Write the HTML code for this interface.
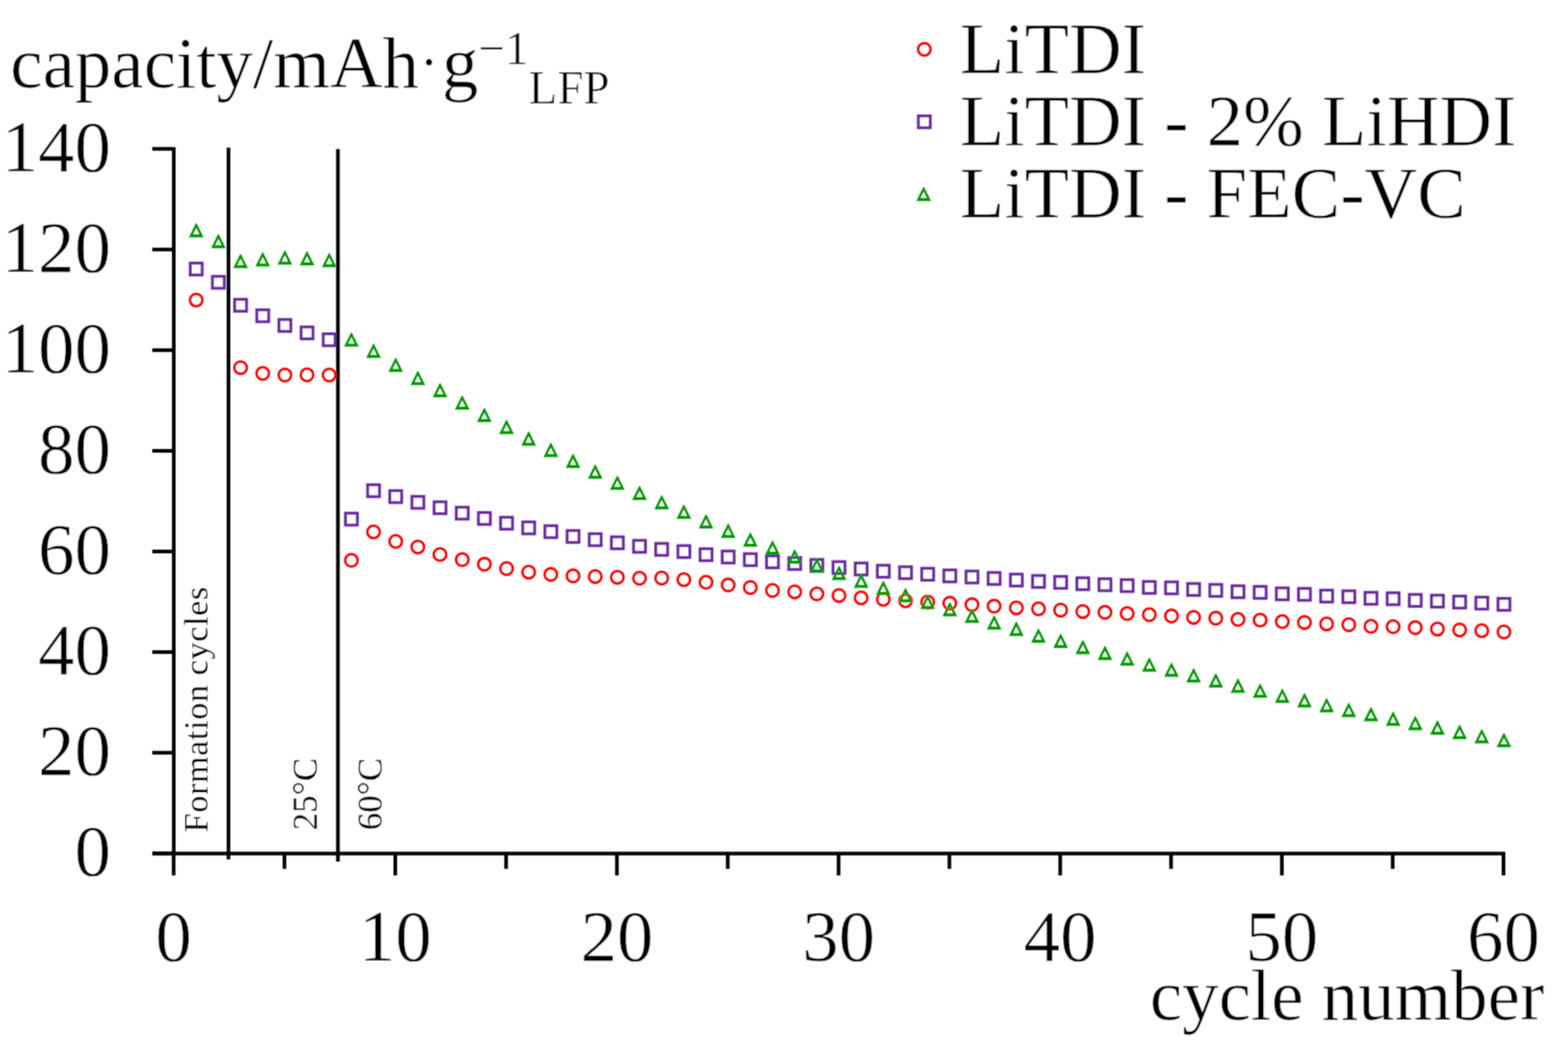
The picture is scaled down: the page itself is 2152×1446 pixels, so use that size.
<!DOCTYPE html>
<html><head><meta charset="utf-8"><title>Capacity vs cycle number</title>
<style>
html,body{margin:0;padding:0;background:#fff;}
svg{display:block;}
text{font-family:"Liberation Serif","Times New Roman",serif;fill:#000;stroke:#fff;stroke-width:0.6px;}
.sm text{stroke-width:0.25px;}
</style></head>
<body>
<svg width="2152" height="1446" viewBox="0 0 2152 1446">
<defs><filter id="soft" filterUnits="userSpaceOnUse" x="0" y="0" width="2152" height="1446"><feConvolveMatrix order="3" kernelMatrix="1 2 1 2 4 2 1 2 1" divisor="16" edgeMode="none" preserveAlpha="false"/></filter></defs>
<rect width="2152" height="1446" fill="#fff"/>
<g filter="url(#soft)">
<text x="14" y="119.5" font-size="100">capacity/mAh<tspan font-size="78" dx="0.85" dy="-9">·</tspan><tspan dx="4.65" dy="9">g</tspan><tspan font-size="65" dy="-31.5">−1</tspan><tspan font-size="64.5" dy="53.5">LFP</tspan></text>

<circle cx="1268.6" cy="67.7" r="8.6" fill="none" stroke="#ff0000" stroke-width="3.3"/>
<rect x="1260.4" y="158.9" width="16.4" height="16.4" fill="none" stroke="#6a2aa0" stroke-width="3.8"/>
<path fill="#009900" fill-rule="evenodd" d="M1267.25,256.40L1268.15,256.40L1277.70,275.70L1257.70,275.70ZM1267.70,262.49L1263.14,271.70L1272.26,271.70Z"/>
<g font-size="100">
<text x="1317.3" y="99.5">LiTDI</text>
<text x="1317.3" y="199">LiTDI - 2% LiHDI</text>
<text x="1317.3" y="297.7">LiTDI - FEC-VC</text>
</g>
<g stroke="#000" stroke-width="5.0" fill="none"><path d="M238.5,201.9V1171.0" /><path d="M209,1171.0H2066" /><path d="M209,1170.8H238.5" /><path d="M209,1032.7H238.5" /><path d="M209,894.6H238.5" /><path d="M209,756.6H238.5" /><path d="M209,618.5H238.5" /><path d="M209,480.4H238.5" /><path d="M209,342.3H238.5" /><path d="M209,204.2H238.5" /><path d="M238.3,1171.0V1201.0" /><path d="M390.4,1171.0V1192.0" /><path d="M542.5,1171.0V1201.0" /><path d="M694.6,1171.0V1192.0" /><path d="M846.7,1171.0V1201.0" /><path d="M998.8,1171.0V1192.0" /><path d="M1150.9,1171.0V1201.0" /><path d="M1303.0,1171.0V1192.0" /><path d="M1455.1,1171.0V1201.0" /><path d="M1607.2,1171.0V1192.0" /><path d="M1759.3,1171.0V1201.0" /><path d="M1911.4,1171.0V1192.0" /><path d="M2063.5,1171.0V1201.0" /><path d="M313.6,202.5V1179" /><path d="M463.8,204.4V1182" /></g>
<g fill="none" stroke="#ff0000" stroke-width="3.3"><circle cx="269.3" cy="411.7" r="8.6"/><circle cx="330.2" cy="504.4" r="8.6"/><circle cx="360.6" cy="512.3" r="8.6"/><circle cx="391.0" cy="514.5" r="8.6"/><circle cx="421.4" cy="514.3" r="8.6"/><circle cx="451.8" cy="514.5" r="8.6"/><circle cx="482.3" cy="768.8" r="8.6"/><circle cx="512.7" cy="729.7" r="8.6"/><circle cx="543.1" cy="742.8" r="8.6"/><circle cx="573.5" cy="750.4" r="8.6"/><circle cx="603.9" cy="760.7" r="8.6"/><circle cx="634.4" cy="767.8" r="8.6"/><circle cx="664.8" cy="774.1" r="8.6"/><circle cx="695.2" cy="780.0" r="8.6"/><circle cx="725.6" cy="784.9" r="8.6"/><circle cx="756.0" cy="788.1" r="8.6"/><circle cx="786.5" cy="790.1" r="8.6"/><circle cx="816.9" cy="790.9" r="8.6"/><circle cx="847.3" cy="791.9" r="8.6"/><circle cx="877.7" cy="793.3" r="8.6"/><circle cx="908.1" cy="793.0" r="8.6"/><circle cx="938.6" cy="795.2" r="8.6"/><circle cx="969.0" cy="798.8" r="8.6"/><circle cx="999.4" cy="802.6" r="8.6"/><circle cx="1029.8" cy="806.0" r="8.6"/><circle cx="1060.2" cy="810.0" r="8.6"/><circle cx="1090.7" cy="811.9" r="8.6"/><circle cx="1121.1" cy="814.8" r="8.6"/><circle cx="1151.5" cy="816.9" r="8.6"/><circle cx="1181.9" cy="820.2" r="8.6"/><circle cx="1212.3" cy="822.2" r="8.6"/><circle cx="1242.8" cy="824.2" r="8.6"/><circle cx="1273.2" cy="825.9" r="8.6"/><circle cx="1303.6" cy="827.6" r="8.6"/><circle cx="1334.0" cy="829.6" r="8.6"/><circle cx="1364.4" cy="831.6" r="8.6"/><circle cx="1394.9" cy="833.9" r="8.6"/><circle cx="1425.3" cy="835.3" r="8.6"/><circle cx="1455.7" cy="837.0" r="8.6"/><circle cx="1486.1" cy="838.9" r="8.6"/><circle cx="1516.5" cy="840.1" r="8.6"/><circle cx="1547.0" cy="841.8" r="8.6"/><circle cx="1577.4" cy="843.3" r="8.6"/><circle cx="1607.8" cy="845.1" r="8.6"/><circle cx="1638.2" cy="846.9" r="8.6"/><circle cx="1668.6" cy="848.1" r="8.6"/><circle cx="1699.1" cy="849.8" r="8.6"/><circle cx="1729.5" cy="850.8" r="8.6"/><circle cx="1759.9" cy="852.8" r="8.6"/><circle cx="1790.3" cy="853.9" r="8.6"/><circle cx="1820.7" cy="855.9" r="8.6"/><circle cx="1851.2" cy="857.0" r="8.6"/><circle cx="1881.6" cy="859.3" r="8.6"/><circle cx="1912.0" cy="859.8" r="8.6"/><circle cx="1942.4" cy="861.1" r="8.6"/><circle cx="1972.8" cy="862.9" r="8.6"/><circle cx="2003.3" cy="864.2" r="8.6"/><circle cx="2033.7" cy="865.2" r="8.6"/><circle cx="2064.1" cy="867.0" r="8.6"/></g>
<g fill="none" stroke="#6a2aa0" stroke-width="3.8"><rect x="261.1" y="360.9" width="16.4" height="16.4"/><rect x="291.5" y="379.1" width="16.4" height="16.4"/><rect x="322.0" y="410.6" width="16.4" height="16.4"/><rect x="352.4" y="425.0" width="16.4" height="16.4"/><rect x="382.8" y="438.3" width="16.4" height="16.4"/><rect x="413.2" y="448.5" width="16.4" height="16.4"/><rect x="443.6" y="457.9" width="16.4" height="16.4"/><rect x="474.1" y="704.0" width="16.4" height="16.4"/><rect x="504.5" y="665.0" width="16.4" height="16.4"/><rect x="534.9" y="673.1" width="16.4" height="16.4"/><rect x="565.3" y="681.0" width="16.4" height="16.4"/><rect x="595.7" y="688.4" width="16.4" height="16.4"/><rect x="626.2" y="695.8" width="16.4" height="16.4"/><rect x="656.6" y="703.1" width="16.4" height="16.4"/><rect x="687.0" y="709.6" width="16.4" height="16.4"/><rect x="717.4" y="716.0" width="16.4" height="16.4"/><rect x="747.8" y="721.2" width="16.4" height="16.4"/><rect x="778.3" y="727.8" width="16.4" height="16.4"/><rect x="808.7" y="732.2" width="16.4" height="16.4"/><rect x="839.1" y="736.5" width="16.4" height="16.4"/><rect x="869.5" y="741.3" width="16.4" height="16.4"/><rect x="899.9" y="745.5" width="16.4" height="16.4"/><rect x="930.4" y="748.5" width="16.4" height="16.4"/><rect x="960.8" y="752.8" width="16.4" height="16.4"/><rect x="991.2" y="756.0" width="16.4" height="16.4"/><rect x="1021.6" y="759.6" width="16.4" height="16.4"/><rect x="1052.0" y="762.6" width="16.4" height="16.4"/><rect x="1082.5" y="764.9" width="16.4" height="16.4"/><rect x="1112.9" y="767.5" width="16.4" height="16.4"/><rect x="1143.3" y="770.5" width="16.4" height="16.4"/><rect x="1173.7" y="772.4" width="16.4" height="16.4"/><rect x="1204.1" y="775.5" width="16.4" height="16.4"/><rect x="1234.6" y="777.5" width="16.4" height="16.4"/><rect x="1265.0" y="779.6" width="16.4" height="16.4"/><rect x="1295.4" y="781.9" width="16.4" height="16.4"/><rect x="1325.8" y="783.4" width="16.4" height="16.4"/><rect x="1356.2" y="785.4" width="16.4" height="16.4"/><rect x="1386.7" y="787.6" width="16.4" height="16.4"/><rect x="1417.1" y="789.5" width="16.4" height="16.4"/><rect x="1447.5" y="790.8" width="16.4" height="16.4"/><rect x="1477.9" y="792.6" width="16.4" height="16.4"/><rect x="1508.3" y="794.0" width="16.4" height="16.4"/><rect x="1538.8" y="795.2" width="16.4" height="16.4"/><rect x="1569.2" y="797.7" width="16.4" height="16.4"/><rect x="1599.6" y="798.3" width="16.4" height="16.4"/><rect x="1630.0" y="800.5" width="16.4" height="16.4"/><rect x="1660.4" y="801.8" width="16.4" height="16.4"/><rect x="1690.9" y="803.6" width="16.4" height="16.4"/><rect x="1721.3" y="804.5" width="16.4" height="16.4"/><rect x="1751.7" y="806.5" width="16.4" height="16.4"/><rect x="1782.1" y="807.2" width="16.4" height="16.4"/><rect x="1812.5" y="809.6" width="16.4" height="16.4"/><rect x="1843.0" y="810.5" width="16.4" height="16.4"/><rect x="1873.4" y="812.6" width="16.4" height="16.4"/><rect x="1903.8" y="813.2" width="16.4" height="16.4"/><rect x="1934.2" y="815.5" width="16.4" height="16.4"/><rect x="1964.6" y="816.5" width="16.4" height="16.4"/><rect x="1995.1" y="817.8" width="16.4" height="16.4"/><rect x="2025.5" y="819.2" width="16.4" height="16.4"/><rect x="2055.9" y="820.9" width="16.4" height="16.4"/></g>
<path fill="#009900" fill-rule="evenodd" d="M268.87,306.30L269.77,306.30L279.32,325.60L259.32,325.60ZM269.32,312.39L264.76,321.60L273.88,321.60ZM299.29,321.30L300.19,321.30L309.74,340.60L289.74,340.60ZM299.74,327.39L295.18,336.60L304.30,336.60ZM329.71,348.50L330.61,348.50L340.16,367.80L320.16,367.80ZM330.16,354.59L325.60,363.80L334.72,363.80ZM360.13,346.20L361.03,346.20L370.58,365.50L350.58,365.50ZM360.58,352.29L356.02,361.50L365.14,361.50ZM390.55,343.70L391.45,343.70L401.00,363.00L381.00,363.00ZM391.00,349.79L386.44,359.00L395.56,359.00ZM420.97,344.80L421.87,344.80L431.42,364.10L411.42,364.10ZM421.42,350.89L416.86,360.10L425.98,360.10ZM451.39,347.20L452.29,347.20L461.84,366.50L441.84,366.50ZM451.84,353.29L447.28,362.50L456.40,362.50ZM481.81,456.20L482.71,456.20L492.26,475.50L472.26,475.50ZM482.26,462.29L477.70,471.50L486.82,471.50ZM512.23,471.60L513.13,471.60L522.68,490.90L502.68,490.90ZM512.68,477.69L508.12,486.90L517.24,486.90ZM542.65,491.00L543.55,491.00L553.10,510.30L533.10,510.30ZM543.10,497.09L538.54,506.30L547.66,506.30ZM573.07,509.00L573.97,509.00L583.52,528.30L563.52,528.30ZM573.52,515.09L568.96,524.30L578.08,524.30ZM603.49,525.80L604.39,525.80L613.94,545.10L593.94,545.10ZM603.94,531.89L599.38,541.10L608.50,541.10ZM633.91,542.70L634.81,542.70L644.36,562.00L624.36,562.00ZM634.36,548.79L629.80,558.00L638.92,558.00ZM664.33,559.80L665.23,559.80L674.78,579.10L654.78,579.10ZM664.78,565.89L660.22,575.10L669.34,575.10ZM694.75,576.10L695.65,576.10L705.20,595.40L685.20,595.40ZM695.20,582.19L690.64,591.40L699.76,591.40ZM725.17,592.10L726.07,592.10L735.62,611.40L715.62,611.40ZM725.62,598.19L721.06,607.40L730.18,607.40ZM755.59,607.60L756.49,607.60L766.04,626.90L746.04,626.90ZM756.04,613.69L751.48,622.90L760.60,622.90ZM786.01,622.80L786.91,622.80L796.46,642.10L776.46,642.10ZM786.46,628.89L781.90,638.10L791.02,638.10ZM816.43,637.50L817.33,637.50L826.88,656.80L806.88,656.80ZM816.88,643.59L812.32,652.80L821.44,652.80ZM846.85,652.70L847.75,652.70L857.30,672.00L837.30,672.00ZM847.30,658.79L842.74,668.00L851.86,668.00ZM877.27,666.80L878.17,666.80L887.72,686.10L867.72,686.10ZM877.72,672.89L873.16,682.10L882.28,682.10ZM907.69,679.50L908.59,679.50L918.14,698.80L898.14,698.80ZM908.14,685.59L903.58,694.80L912.70,694.80ZM938.11,692.40L939.01,692.40L948.56,711.70L928.56,711.70ZM938.56,698.49L934.00,707.70L943.12,707.70ZM968.53,705.70L969.43,705.70L978.98,725.00L958.98,725.00ZM968.98,711.79L964.42,721.00L973.54,721.00ZM998.95,718.60L999.85,718.60L1009.40,737.90L989.40,737.90ZM999.40,724.69L994.84,733.90L1003.96,733.90ZM1029.37,730.80L1030.27,730.80L1039.82,750.10L1019.82,750.10ZM1029.82,736.89L1025.26,746.10L1034.38,746.10ZM1059.79,741.70L1060.69,741.70L1070.24,761.00L1050.24,761.00ZM1060.24,747.79L1055.68,757.00L1064.80,757.00ZM1090.21,753.90L1091.11,753.90L1100.66,773.20L1080.66,773.20ZM1090.66,759.99L1086.10,769.20L1095.22,769.20ZM1120.63,765.90L1121.53,765.90L1131.08,785.20L1111.08,785.20ZM1121.08,771.99L1116.52,781.20L1125.64,781.20ZM1151.05,776.50L1151.95,776.50L1161.50,795.80L1141.50,795.80ZM1151.50,782.59L1146.94,791.80L1156.06,791.80ZM1181.47,787.10L1182.37,787.10L1191.92,806.40L1171.92,806.40ZM1181.92,793.19L1177.36,802.40L1186.48,802.40ZM1211.89,796.90L1212.79,796.90L1222.34,816.20L1202.34,816.20ZM1212.34,802.99L1207.78,812.20L1216.90,812.20ZM1242.31,807.00L1243.21,807.00L1252.76,826.30L1232.76,826.30ZM1242.76,813.09L1238.20,822.30L1247.32,822.30ZM1272.73,816.10L1273.63,816.10L1283.18,835.40L1263.18,835.40ZM1273.18,822.19L1268.62,831.40L1277.74,831.40ZM1303.15,826.20L1304.05,826.20L1313.60,845.50L1293.60,845.50ZM1303.60,832.29L1299.04,841.50L1308.16,841.50ZM1333.57,835.30L1334.47,835.30L1344.02,854.60L1324.02,854.60ZM1334.02,841.39L1329.46,850.60L1338.58,850.60ZM1363.99,844.50L1364.89,844.50L1374.44,863.80L1354.44,863.80ZM1364.44,850.59L1359.88,859.80L1369.00,859.80ZM1394.41,853.10L1395.31,853.10L1404.86,872.40L1384.86,872.40ZM1394.86,859.19L1390.30,868.40L1399.42,868.40ZM1424.83,862.40L1425.73,862.40L1435.28,881.70L1415.28,881.70ZM1425.28,868.49L1420.72,877.70L1429.84,877.70ZM1455.25,869.60L1456.15,869.60L1465.70,888.90L1445.70,888.90ZM1455.70,875.69L1451.14,884.90L1460.26,884.90ZM1485.67,878.20L1486.57,878.20L1496.12,897.50L1476.12,897.50ZM1486.12,884.29L1481.56,893.50L1490.68,893.50ZM1516.09,886.30L1516.99,886.30L1526.54,905.60L1506.54,905.60ZM1516.54,892.39L1511.98,901.60L1521.10,901.60ZM1546.51,894.00L1547.41,894.00L1556.96,913.30L1536.96,913.30ZM1546.96,900.09L1542.40,909.30L1551.52,909.30ZM1576.93,902.20L1577.83,902.20L1587.38,921.50L1567.38,921.50ZM1577.38,908.29L1572.82,917.50L1581.94,917.50ZM1607.35,909.20L1608.25,909.20L1617.80,928.50L1597.80,928.50ZM1607.80,915.29L1603.24,924.50L1612.36,924.50ZM1637.77,917.00L1638.67,917.00L1648.22,936.30L1628.22,936.30ZM1638.22,923.09L1633.66,932.30L1642.78,932.30ZM1668.19,924.00L1669.09,924.00L1678.64,943.30L1658.64,943.30ZM1668.64,930.09L1664.08,939.30L1673.20,939.30ZM1698.61,931.10L1699.51,931.10L1709.06,950.40L1689.06,950.40ZM1699.06,937.19L1694.50,946.40L1703.62,946.40ZM1729.03,938.00L1729.93,938.00L1739.48,957.30L1719.48,957.30ZM1729.48,944.09L1724.92,953.30L1734.04,953.30ZM1759.45,944.90L1760.35,944.90L1769.90,964.20L1749.90,964.20ZM1759.90,950.99L1755.34,960.20L1764.46,960.20ZM1789.87,951.10L1790.77,951.10L1800.32,970.40L1780.32,970.40ZM1790.32,957.19L1785.76,966.40L1794.88,966.40ZM1820.29,958.00L1821.19,958.00L1830.74,977.30L1810.74,977.30ZM1820.74,964.09L1816.18,973.30L1825.30,973.30ZM1850.71,964.40L1851.61,964.40L1861.16,983.70L1841.16,983.70ZM1851.16,970.49L1846.60,979.70L1855.72,979.70ZM1881.13,970.30L1882.03,970.30L1891.58,989.60L1871.58,989.60ZM1881.58,976.39L1877.02,985.60L1886.14,985.60ZM1911.55,976.50L1912.45,976.50L1922.00,995.80L1902.00,995.80ZM1912.00,982.59L1907.44,991.80L1916.56,991.80ZM1941.97,982.40L1942.87,982.40L1952.42,1001.70L1932.42,1001.70ZM1942.42,988.49L1937.86,997.70L1946.98,997.70ZM1972.39,988.60L1973.29,988.60L1982.84,1007.90L1962.84,1007.90ZM1972.84,994.69L1968.28,1003.90L1977.40,1003.90ZM2002.81,994.60L2003.71,994.60L2013.26,1013.90L1993.26,1013.90ZM2003.26,1000.69L1998.70,1009.90L2007.82,1009.90ZM2033.23,1000.50L2034.13,1000.50L2043.68,1019.80L2023.68,1019.80ZM2033.68,1006.59L2029.12,1015.80L2038.24,1015.80ZM2063.65,1005.80L2064.55,1005.80L2074.10,1025.10L2054.10,1025.10ZM2064.10,1011.89L2059.54,1021.10L2068.66,1021.10Z"/>
<g font-size="100"><text x="152.3" y="1201.2" text-anchor="end">0</text><text x="152.3" y="1063.1" text-anchor="end">20</text><text x="152.3" y="925.0" text-anchor="end">40</text><text x="152.3" y="787.0" text-anchor="end">60</text><text x="152.3" y="648.9" text-anchor="end">80</text><text x="152.3" y="510.8" text-anchor="end">100</text><text x="152.3" y="372.7" text-anchor="end">120</text><text x="152.3" y="234.6" text-anchor="end">140</text><text x="238.3" y="1317.5" text-anchor="middle">0</text><text x="542.5" y="1317.5" text-anchor="middle">10</text><text x="846.7" y="1317.5" text-anchor="middle">20</text><text x="1150.9" y="1317.5" text-anchor="middle">30</text><text x="1455.1" y="1317.5" text-anchor="middle">40</text><text x="1759.3" y="1317.5" text-anchor="middle">50</text><text x="2063.5" y="1317.5" text-anchor="middle">60</text></g>
<text x="2119.5" y="1399" font-size="100" text-anchor="end">cycle number</text>
<g font-size="48" class="sm">
<text transform="translate(285,1142) rotate(-90)" font-size="47" letter-spacing="0.8">Formation cycles</text>
<text transform="translate(435,1139) rotate(-90)">25°C</text>
<text transform="translate(524,1139) rotate(-90)">60°C</text>
</g>
</g>
</svg>
</body></html>
